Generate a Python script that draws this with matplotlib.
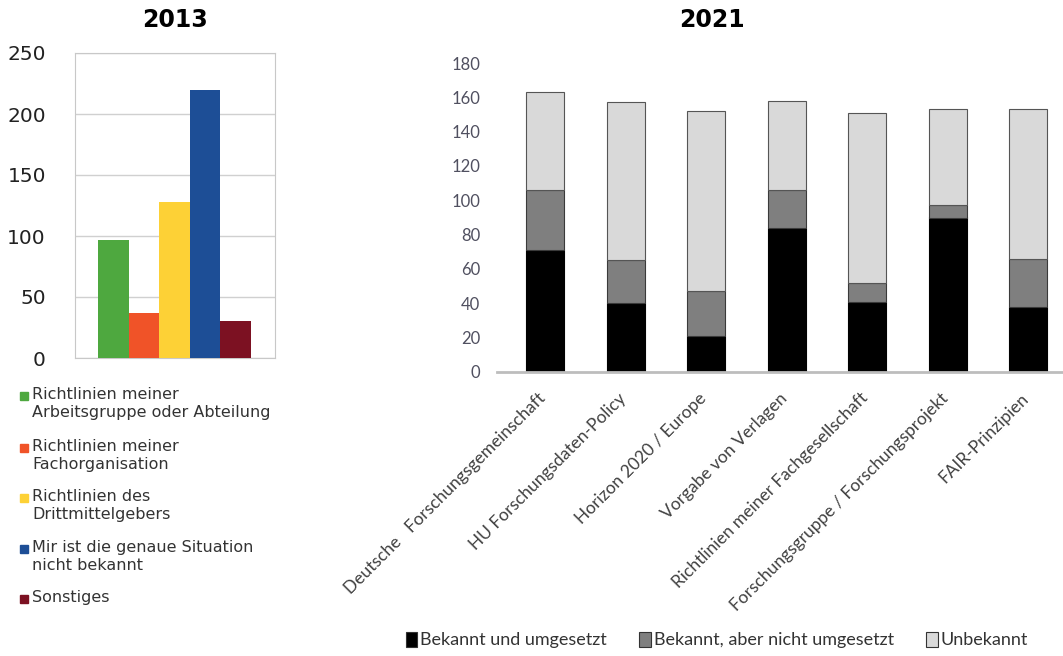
import matplotlib
matplotlib.use("Agg")
import matplotlib.pyplot as plt
import matplotlib.transforms as mtransforms
from matplotlib.patches import Rectangle, Patch

# ---- data 2013 ----
cats_2013 = ["Richtlinien meiner\nArbeitsgruppe oder Abteilung",
             "Richtlinien meiner\nFachorganisation",
             "Richtlinien des\nDrittmittelgebers",
             "Mir ist die genaue Situation\nnicht bekannt",
             "Sonstiges"]
vals_2013 = [97, 37, 128, 220, 30]
colors_2013 = ["#4ea83f", "#f05328", "#fdd136", "#1d4e96", "#7c1122"]

# ---- data 2021 ----
cats_2021 = ["Deutsche   Forschungsgemeinschaft", "HU Forschungsdaten-Policy",
             "Horizon 2020 / Europe", "Vorgabe von Verlagen",
             "Richtlinien meiner Fachgesellschaft",
             "Forschungsgruppe / Forschungsprojekt", "FAIR-Prinzipien"]
bekannt_umgesetzt = [71, 40, 21, 84, 41, 90, 38]
bekannt_nicht = [35, 25, 26, 22, 11, 7, 28]
unbekannt = [57, 92, 105, 52, 99, 56, 87]
series_names = ["Bekannt und umgesetzt", "Bekannt, aber nicht umgesetzt", "Unbekannt"]
series_colors = ["#000000", "#7f7f7f", "#d9d9d9"]

W, H = 1063, 656
fig = plt.figure(figsize=(W / 100, H / 100), dpi=100)

def px_axes(l, t, r, b):
    return fig.add_axes([l / W, 1 - b / H, (r - l) / W, (b - t) / H])

# ---------- 2013 ----------
ax1 = px_axes(75, 53, 275, 358)
x1 = list(range(len(vals_2013)))
ax1.bar(x1, vals_2013, width=1.0, color=colors_2013, zorder=3)
ax1.set_xlim(-1.25, 5.28)
ax1.set_ylim(0, 250)
ax1.set_yticks([0, 50, 100, 150, 200, 250])
ax1.set_xticks([])
ax1.grid(axis="y", color="#d0d0d0", linewidth=1, zorder=0)
for s in ax1.spines.values():
    s.set_color("#c8c8c8")
ax1.tick_params(axis="y", length=0, pad=21, labelsize=14.5, labelcolor="#222222")
fig.text(175 / W, 1 - 20 / H, "2013", ha="center", va="center",
         fontsize=17, fontweight="bold")

# legend 2013 (manual)
row_y = [396, 448, 498, 549, 599]
for yy, lab, col in zip(row_y, cats_2013, colors_2013):
    fig.patches.append(Rectangle((20 / W, 1 - (yy + 4) / H), 8 / W, 8 / H,
                                 transform=fig.transFigure, color=col))
    fig.text(32 / W, 1 - (yy - 9) / H, lab, ha="left", va="top",
             fontsize=11.5, color="#333333", linespacing=1.22)

# ---------- 2021 ----------
font21 = "Lato"
ax2 = px_axes(497, 63, 1063, 372)
x2 = list(range(len(cats_2021)))
bw = 0.47
bottom2 = [a + b for a, b in zip(bekannt_umgesetzt, bekannt_nicht)]
ax2.bar(x2, bekannt_umgesetzt, width=bw, color=series_colors[0],
        edgecolor="#000000", linewidth=0.8)
ax2.bar(x2, bekannt_nicht, width=bw, bottom=bekannt_umgesetzt,
        color=series_colors[1], edgecolor="#3a3a3a", linewidth=0.8)
ax2.bar(x2, unbekannt, width=bw, bottom=bottom2,
        color=series_colors[2], edgecolor="#555555", linewidth=0.8)
ax2.set_xlim(-0.6, 6.43)
ax2.set_ylim(0, 180)
ax2.set_yticks(range(0, 181, 20))
for k in ["top", "right", "left"]:
    ax2.spines[k].set_visible(False)
ax2.spines["bottom"].set_color("#bdbdbd")
ax2.spines["bottom"].set_linewidth(2)
ax2.tick_params(axis="y", length=0, pad=12, labelsize=12, labelcolor="#505060")
for lab in ax2.get_yticklabels():
    lab.set_fontfamily(font21)
ax2.set_xticks(x2)
ax2.set_xticklabels(cats_2021, rotation=45, ha="right", rotation_mode="anchor",
                    fontsize=12.5, color="#404040", fontfamily=font21)
ax2.tick_params(axis="x", length=0, pad=13)
off = mtransforms.ScaledTranslation(-8 / 100, 0, fig.dpi_scale_trans)
for lab in ax2.get_xticklabels():
    lab.set_transform(lab.get_transform() + off)
fig.text(712 / W, 1 - 20 / H, "2021", ha="center", va="center",
         fontsize=17, fontweight="bold")

handles = [Patch(facecolor=c, edgecolor="#333333", linewidth=0.8) for c in series_colors]
fig.legend(handles, series_names, loc="center", ncol=3,
           bbox_to_anchor=(717 / W, 1 - 640 / H), frameon=False,
           prop={"family": font21, "size": 13}, handlelength=0.65,
           handleheight=0.9, handletextpad=0.15, columnspacing=1.8,
           labelcolor="#333333")

fig.savefig("out.png", dpi=100)
